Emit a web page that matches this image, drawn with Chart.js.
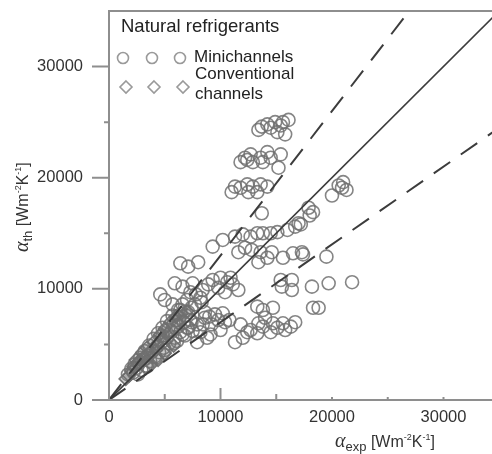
<!DOCTYPE html>
<html lang="en">
<head>
<meta charset="UTF-8">
<title>alpha_th vs alpha_exp</title>
<script src="https://cdn.jsdelivr.net/npm/chart.js@4.4.1/dist/chart.umd.min.js"></script>
<style>
  html, body { margin:0; padding:0; background:#fff; }
</style>
</head>
<body>
<canvas id="c" width="492" height="454"></canvas>
<script>
// minichannels: x = alpha_exp, y = alpha_th  (W m-2 K-1)
var miniX = [
  13400,13700,14200,14500,14900,15100,15600,15800,16100,15400,
  11800,12200,12700,12900,13600,13800,14200,14500,15200,15400,12400,
  11000,11300,11800,12400,12500,12900,13300,13600,14200,
  13700,
  20600,21000,21300,20900,20000,17900,18300,18000,17000,
  19500,19700,21800,18200,18300,18800,
  9300,10200,11300,12000,12700,13300,13800,14500,15100,16000,16700,17200,
  11600,12200,12800,13600,13400,14200,14600,15600,16500,17300,17400,
  6400,7100,8000,5900,6600,7500,7300,
  15400,16400,16400,15500,
  9300,10000,10600,11100,11600,9800,10400,10900,8900,8400,
  5000,5700,6400,4600,7700,8200,8600,
  13300,13800,14700,11300,12000,12700,13300,13800,14500,15100,15600,16300,16700,13400,12400,14700,11800,14000,15800,
  7300,7900,8600,9200,9800,8200,9100,10000,7900,8800,7100,9500,10400,
  1700,2200,2500,2700,2900,3100,3300,3500,3700,3900,4100,4300,4500,4700,4900,5200,5400,5600,5900,6200,6400,6700,7000,6000,6900,7400,6100,6800,
  2000,2300,2800,3200,3600,4000,4400,4800,5200,5700,6200,6600,7000,7400,7800,8300,3400,4800,5300,5800,6300,7100,
  2600,3400,4200,5000,5800,6600,7500,8400,9000,10200,10800
];
var miniY = [
  24300,24600,24800,24500,25000,24100,25000,23900,25200,24700,
  21400,21800,22100,21400,21800,21400,22300,21800,20900,22100,21600,
  18700,19200,19100,19400,18700,19200,18700,19400,19200,
  16800,
  19300,19600,18900,19100,18400,17300,16900,16600,15900,
  12900,10500,10600,10200,8300,8300,
  13800,14400,14700,14900,14700,15000,15000,15000,15100,15300,15600,15800,
  13300,13700,13500,13300,12400,12800,13300,12800,13200,13300,13100,
  12300,12000,12400,10500,10200,10500,9700,
  10800,10800,9900,10200,
  10800,11000,10600,10400,9900,10100,9700,11000,10400,9900,
  9000,8600,8100,9500,8600,9200,7900,
  8400,8100,8300,5200,5600,6300,6000,6600,6100,6500,6900,6600,7000,6900,6100,6900,6800,7400,6300,
  7200,6800,7400,6800,7200,6100,5900,6300,5200,5600,6500,7700,7000,
  2300,2500,2900,3300,2700,3600,3100,4000,3500,4400,3900,4800,4300,5200,4700,5600,5100,6200,5600,6600,6100,7000,6500,7200,7600,7000,5300,5800,
  2800,3200,3800,4400,4900,5500,6000,6500,7100,7600,8100,8600,9000,8300,9500,8800,3800,5800,6300,6800,7400,7900,
  2300,3000,3800,4500,5100,5900,6200,6800,7500,7800,7200
];
// conventional channels
var convX = [3000,3400,4000,4600,5000,5500,6000,6500,2400,3800,4400,5000,5800,2000,2600,3200,4200,4800,2200,2800,3600,4300,5200,6200,7000,1500,1800];
var convY = [4300,4700,5200,5900,6400,7000,7500,7800,3600,3200,3600,4200,4900,2600,3300,3900,4500,5400,3000,3600,4200,5000,5900,6900,8000,1900,2200];

// reference lines: perfect agreement and +-30 %
var refX = [0, 36000];
var diagY = [0, 36000];
var upperY = [0, 46800];
var lowerY = [0, 25200];

var xTicks = [0, 10000, 20000, 30000];
var yTicks = [0, 10000, 20000, 30000];
var xMinor = [5000, 15000, 20000, 25000, 30000];
var yMinor = [5000, 15000, 25000];

function pts(xs, ys) {
  return xs.map(function(v, i){ return {x: v, y: ys[i]}; });
}

var axisCol = '#8e8e8e';
var txtCol = '#333';

// axes, ticks, frame, titles and legend
var deco = {
  id: 'deco',
  afterDraw: function(chart) {
    var ctx = chart.ctx, a = chart.chartArea;
    var xs = chart.scales.x, ys = chart.scales.y;
    ctx.save();
    ctx.strokeStyle = axisCol;
    ctx.lineWidth = 2;
    ctx.beginPath();
    ctx.moveTo(a.left, a.top - 1); ctx.lineTo(a.left, a.bottom);
    ctx.moveTo(a.left - 17, a.bottom); ctx.lineTo(a.right, a.bottom);
    ctx.moveTo(a.left, a.top); ctx.lineTo(a.right, a.top);
    yTicks.forEach(function(v){
      if (v === 0) return;
      var p = ys.getPixelForValue(v);
      ctx.moveTo(a.left - 17, p); ctx.lineTo(a.left, p);
    });
    yMinor.forEach(function(v){
      var p = ys.getPixelForValue(v);
      ctx.moveTo(a.left - 5, p); ctx.lineTo(a.left, p);
    });
    xTicks.forEach(function(v){
      if (v === 0) return;
      var p = xs.getPixelForValue(v);
      var len = v === 10000 ? 12 : 3;
      ctx.moveTo(p, a.bottom); ctx.lineTo(p, a.bottom - len);
    });
    xMinor.forEach(function(v){
      var p = xs.getPixelForValue(v);
      var len = v < 20000 ? 6 : 3;
      ctx.moveTo(p, a.bottom); ctx.lineTo(p, a.bottom - len);
    });
    ctx.stroke();

    // axis titles
    var parts = [
      {t:'\u03b1', f:'italic 20px "Liberation Serif"', dy:0},
      {t:'exp', f:'13px "Liberation Sans"', dy:4},
      {t:' [Wm', f:'16px "Liberation Sans"', dy:0},
      {t:'-2', f:'9px "Liberation Sans"', dy:-7},
      {t:'K', f:'16px "Liberation Sans"', dy:0},
      {t:'-1', f:'9px "Liberation Sans"', dy:-7},
      {t:']', f:'16px "Liberation Sans"', dy:0}
    ];
    ctx.fillStyle = txtCol;
    ctx.textBaseline = 'alphabetic';
    ctx.textAlign = 'left';
    function title(ps, x, y) {
      ps.forEach(function(p){
        ctx.font = p.f;
        ctx.fillText(p.t, x, y + p.dy);
        x += ctx.measureText(p.t).width;
      });
    }
    title(parts, 335, 447);
    var yParts = parts.slice();
    yParts[1] = {t:'th', f:'13px "Liberation Sans"', dy:4};
    ctx.save();
    ctx.translate(28, 252);
    ctx.rotate(-Math.PI / 2);
    title(yParts, 0, 0);
    ctx.restore();

    // legend
    ctx.font = '18.5px "Liberation Sans"';
    ctx.fillStyle = '#222';
    ctx.textBaseline = 'middle';
    ctx.fillText('Natural refrigerants', 121, 27);
    ctx.font = '17px "Liberation Sans"';
    ctx.fillText('Minichannels', 194, 57);
    ctx.fillText('Conventional', 195, 74);
    ctx.fillText('channels', 195, 94);
    ctx.strokeStyle = '#9a9a9a';
    ctx.lineWidth = 1.6;
    [123, 152, 180].forEach(function(x){
      ctx.beginPath(); ctx.arc(x, 58, 5.5, 0, Math.PI * 2); ctx.stroke();
    });
    [126, 154, 183].forEach(function(x){
      ctx.beginPath();
      ctx.moveTo(x, 81); ctx.lineTo(x + 6, 87); ctx.lineTo(x, 93); ctx.lineTo(x - 6, 87);
      ctx.closePath(); ctx.stroke();
    });
    ctx.restore();
  }
};

var lineStyle = {type:'line', pointRadius:0, fill:false, order:0, borderColor:'#3c3c3c'};
var plain = function(v){ return String(v); };

new Chart(document.getElementById('c'), {
  type: 'scatter',
  data: {
    datasets: [
      Object.assign({label:'y=x', data: pts(refX, diagY), borderWidth:1.6}, lineStyle),
      Object.assign({label:'+30%', data: pts(refX, upperY), borderWidth:2, borderDash:[20,13]}, lineStyle),
      Object.assign({label:'-30%', data: pts(refX, lowerY), borderWidth:2, borderDash:[20,13]}, lineStyle),
      {
        label: 'Minichannels', data: pts(miniX, miniY), order: 1,
        pointStyle: 'circle', pointRadius: 6.5, borderWidth: 1.6,
        borderColor: 'rgba(112,112,112,0.85)', backgroundColor: 'rgba(0,0,0,0)'
      },
      {
        label: 'Conventional channels', data: pts(convX, convY), order: 1,
        pointStyle: 'rectRot', pointRadius: 6.5, borderWidth: 1.6,
        borderColor: 'rgba(105,105,105,0.9)', backgroundColor: 'rgba(128,128,128,0.4)'
      }
    ]
  },
  options: {
    responsive: false,
    animation: false,
    devicePixelRatio: 1,
    layout: {autoPadding: false, padding: {top: 11, right: 0, left: 0, bottom: 0}},
    plugins: {legend: {display: false}, tooltip: {enabled: false}},
    scales: {
      x: {
        type: 'linear', min: 0, max: 34350,
        grid: {display: false, drawTicks: false}, border: {display: false},
        afterFit: function(s){ s.height = 54; s.paddingLeft = 0; s.paddingRight = 0; },
        afterBuildTicks: function(s){ s.ticks = xTicks.map(function(v){ return {value: v}; }); },
        ticks: {color: txtCol, padding: 8, maxRotation: 0, autoSkip: false, callback: plain,
                font: {family: '"Liberation Sans"', size: 16.5}}
      },
      y: {
        type: 'linear', min: 0, max: 35000,
        grid: {display: false, drawTicks: false}, border: {display: false},
        afterFit: function(s){ s.width = 109; s.paddingTop = 0; s.paddingBottom = 0; },
        afterBuildTicks: function(s){ s.ticks = yTicks.map(function(v){ return {value: v}; }); },
        ticks: {color: txtCol, padding: 26, autoSkip: false, callback: plain,
                font: {family: '"Liberation Sans"', size: 16.5}}
      }
    }
  },
  plugins: [deco]
});
</script>
</body>
</html>
